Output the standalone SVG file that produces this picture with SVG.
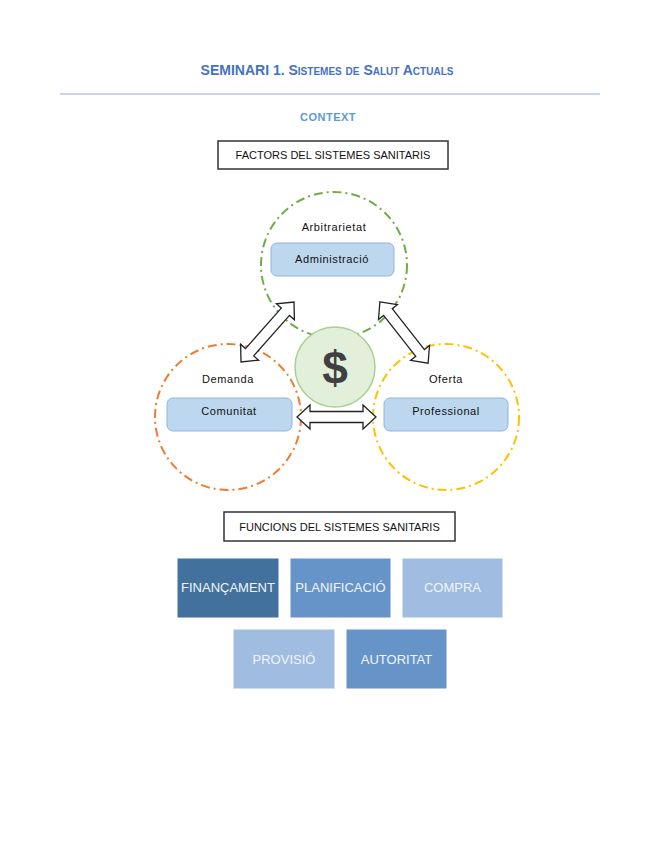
<svg xmlns="http://www.w3.org/2000/svg" width="655" height="848" viewBox="0 0 655 848">
<style>
  .t { font-family: "Liberation Sans", Arial, sans-serif; }
  .lbl { font-family: "Liberation Sans", Arial, sans-serif; font-size: 11px; fill: #111; text-anchor: middle; letter-spacing: 0.6px; }
  .inbox { fill: #BDD7EE; stroke: #8FB4DE; stroke-width: 1; }
  .func { stroke: #ffffff; stroke-width: 1; }
  .ftxt { font-family: "Liberation Sans", Arial, sans-serif; font-size: 13px; fill: #F2F5FA; text-anchor: middle; }
  .hdr { fill: #ffffff; stroke: #333; stroke-width: 1.5; }
  .htxt { font-family: "Liberation Sans", Arial, sans-serif; font-size: 11px; fill: #111; text-anchor: middle; }
  .arrow { fill: #ffffff; stroke: #222; stroke-width: 1.3; stroke-linejoin: miter; }
  .ring { fill: none; stroke-width: 2; stroke-dasharray: 9 4 2 4; }
</style>
<rect width="655" height="848" fill="#ffffff"/>

<g id="title">
  <text class="t" x="327" y="75" text-anchor="middle" font-size="14" font-weight="bold" fill="#4472C4">SEMINARI 1. <tspan font-variant="small-caps">Sistemes de Salut Actuals</tspan></text>
  <line x1="60" y1="94" x2="600" y2="94" stroke="#8EAADB" stroke-width="1.2"/>
  <text class="t" x="328" y="121" text-anchor="middle" font-size="11" font-weight="bold" fill="#5B9BD5" letter-spacing="0.5">CONTEXT</text>
</g>

<g id="factors-header">
  <rect class="hdr" x="218" y="141" width="230" height="28"/>
  <text class="htxt" x="333" y="159">FACTORS DEL SISTEMES SANITARIS</text>
</g>

<g id="arbitrarietat">
  <circle class="ring" cx="334" cy="265" r="73" stroke="#70AD47"/>
  <text class="lbl" x="334" y="231">Arbitrarietat</text>
  <rect class="inbox" x="271" y="243" width="123" height="33" rx="6"/>
  <text class="lbl" x="332" y="263">Administració</text>
</g>

<g id="demanda">
  <circle class="ring" cx="228" cy="417" r="73" stroke="#ED7D31"/>
  <text class="lbl" x="228" y="383">Demanda</text>
  <rect class="inbox" x="167" y="398" width="125" height="33" rx="6"/>
  <text class="lbl" x="229" y="415">Comunitat</text>
</g>

<g id="oferta">
  <circle class="ring" cx="446" cy="417" r="73" stroke="#FFC000"/>
  <text class="lbl" x="446" y="383">Oferta</text>
  <rect class="inbox" x="384" y="398" width="124" height="33" rx="6"/>
  <text class="lbl" x="446" y="415">Professional</text>
</g>

<g id="diners">
  <circle cx="335" cy="367" r="40" fill="#E2EFDA" stroke="#A9D18E" stroke-width="1.5"/>
  <text class="t" x="335" y="384" text-anchor="middle" font-size="46" font-weight="bold" fill="#404040">$</text>
</g>

<g id="connectors">
  <path class="arrow" transform="translate(267.5 332) rotate(-48.5)" d="M-40 0 L-27 -12 L-27 -5.5 L27 -5.5 L27 -12 L40 0 L27 12 L27 5.5 L-27 5.5 L-27 12 Z"/>
  <path class="arrow" transform="translate(404 332.5) rotate(51.8)" d="M-39 0 L-26 -12 L-26 -5.5 L26 -5.5 L26 -12 L39 0 L26 12 L26 5.5 L-26 5.5 L-26 12 Z"/>
  <path class="arrow" transform="translate(336.5 417)" d="M-39.5 0 L-26.5 -12 L-26.5 -5.5 L26.5 -5.5 L26.5 -12 L39.5 0 L26.5 12 L26.5 5.5 L-26.5 5.5 L-26.5 12 Z"/>
</g>

<g id="funcions-header">
  <rect class="hdr" x="224" y="512" width="231" height="29"/>
  <text class="htxt" x="339.5" y="531">FUNCIONS DEL SISTEMES SANITARIS</text>
</g>

<g id="financament">
  <rect class="func" x="177" y="558" width="102" height="60" fill="#41719C"/>
  <text class="ftxt" x="228" y="592">FINANÇAMENT</text>
</g>
<g id="planificacio">
  <rect class="func" x="290" y="558" width="101" height="60" fill="#6694C8"/>
  <text class="ftxt" x="340.5" y="592">PLANIFICACIÓ</text>
</g>
<g id="compra">
  <rect class="func" x="402" y="558" width="101" height="60" fill="#A0BCE0"/>
  <text class="ftxt" x="452.5" y="592">COMPRA</text>
</g>
<g id="provisio">
  <rect class="func" x="233" y="629" width="102" height="60" fill="#A0BCE0"/>
  <text class="ftxt" x="284" y="664">PROVISIÓ</text>
</g>
<g id="autoritat">
  <rect class="func" x="346" y="629" width="101" height="60" fill="#6694C8"/>
  <text class="ftxt" x="396.5" y="664">AUTORITAT</text>
</g>
</svg>
